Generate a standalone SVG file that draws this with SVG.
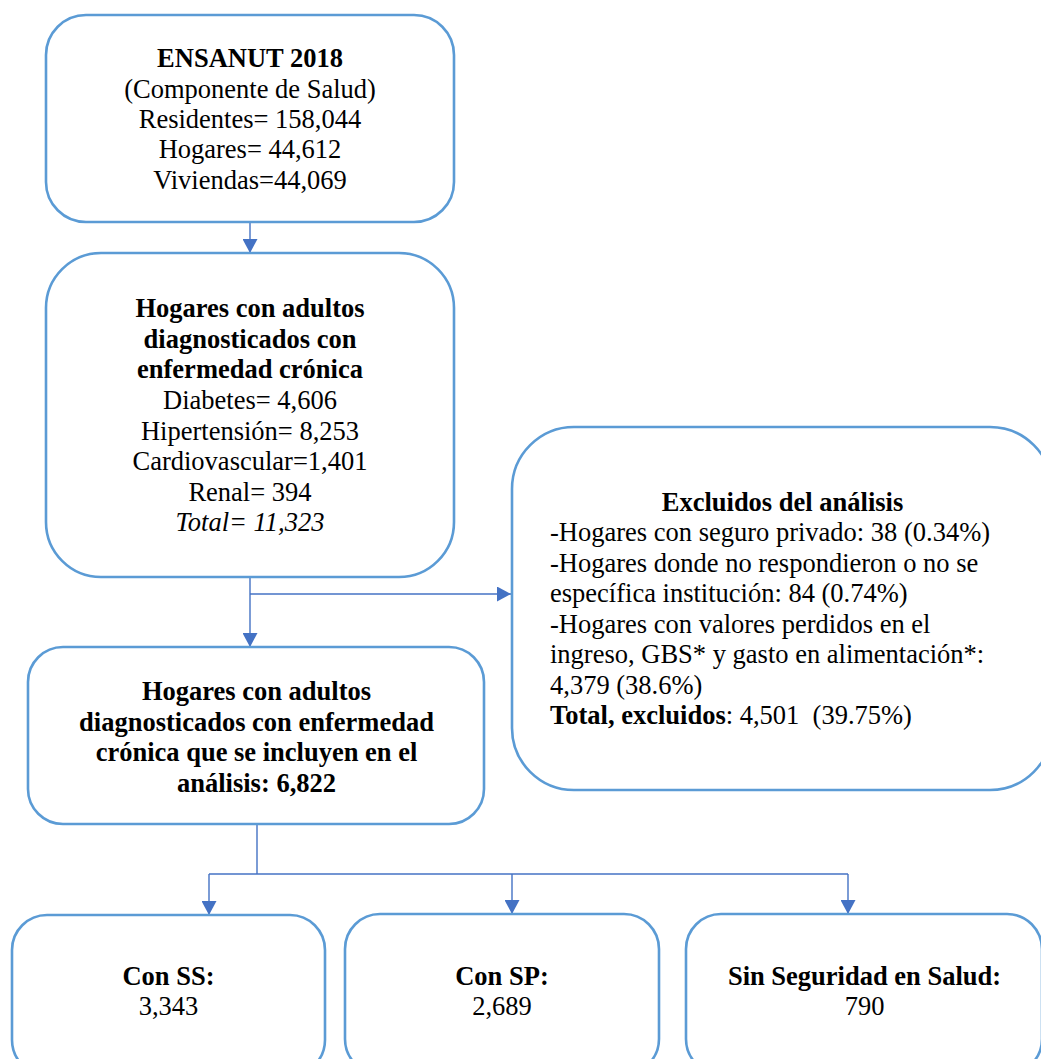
<svg xmlns="http://www.w3.org/2000/svg" width="1041" height="1059" viewBox="0 0 1041 1059">
<style>
.box{fill:#fff;stroke:#5B9BD5;stroke-width:2.6}
.t{font-family:"Liberation Serif","Times New Roman",serif;font-size:26.5px;fill:#000}
.c{text-anchor:middle}
.b{font-weight:bold}
.i{font-style:italic}
.con{fill:none;stroke:#4472C4;stroke-width:1.4}
</style>
<defs>
<marker id="ah" markerUnits="userSpaceOnUse" markerWidth="15" markerHeight="15" refX="14" refY="7.5" orient="auto">
<path d="M0,0 L14,7.5 L0,15 z" fill="#4472C4"/>
</marker>
</defs>
<rect width="1041" height="1059" fill="#fff"/>
<g id="connectors">
<line class="con" x1="250" y1="222" x2="250" y2="253" marker-end="url(#ah)"/>
<line class="con" x1="250" y1="577" x2="250" y2="647" marker-end="url(#ah)"/>
<line class="con" x1="250" y1="594" x2="511" y2="594" marker-end="url(#ah)"/>
<polyline class="con" points="257,824 257,874"/>
<line class="con" x1="209" y1="874" x2="848" y2="874"/>
<line class="con" x1="209" y1="874" x2="209" y2="915" marker-end="url(#ah)"/>
<line class="con" x1="512" y1="874" x2="512" y2="914" marker-end="url(#ah)"/>
<line class="con" x1="848" y1="874" x2="848" y2="914" marker-end="url(#ah)"/>
</g>
<g id="ensanut">
<rect class="box" x="46" y="15" width="408" height="207" rx="40"/>
<text class="t c" x="250" y="67"><tspan class="b">ENSANUT 2018</tspan></text>
<text class="t c" x="250" y="97.5">(Componente de Salud)</text>
<text class="t c" x="250" y="128">Residentes= 158,044</text>
<text class="t c" x="250" y="158">Hogares= 44,612</text>
<text class="t c" x="250" y="188.5">Viviendas=44,069</text>
</g>
<g id="hogares-cronica">
<rect class="box" x="46" y="253" width="408" height="324" rx="55"/>
<text class="t c b" x="250" y="317">Hogares con adultos</text>
<text class="t c b" x="250" y="347.5">diagnosticados con</text>
<text class="t c b" x="250" y="378">enfermedad crónica</text>
<text class="t c" x="250" y="409">Diabetes= 4,606</text>
<text class="t c" x="250" y="439.5">Hipertensión= 8,253</text>
<text class="t c" x="250" y="470">Cardiovascular=1,401</text>
<text class="t c" x="250" y="500.5">Renal= 394</text>
<text class="t c i" x="250" y="531">Total= 11,323</text>
</g>
<g id="excluidos">
<rect class="box" x="512" y="427" width="540" height="363" rx="62"/>
<text class="t c b" x="782.5" y="510.5">Excluidos del análisis</text>
<text class="t" x="550" y="541">-Hogares con seguro privado: 38 (0.34%)</text>
<text class="t" x="550" y="571.5">-Hogares donde no respondieron o no se</text>
<text class="t" x="550" y="602">específica institución: 84 (0.74%)</text>
<text class="t" x="550" y="632.5">-Hogares con valores perdidos en el</text>
<text class="t" x="550" y="663">ingreso, GBS* y gasto en alimentación*:</text>
<text class="t" x="550" y="693.5">4,379 (38.6%)</text>
<text class="t" x="550" y="724"><tspan class="b">Total, excluidos</tspan>: 4,501 <tspan dx="6.6">(39.75%)</tspan></text>
</g>
<g id="incluidos">
<rect class="box" x="28" y="647" width="456" height="177" rx="35"/>
<text class="t c b" x="256.5" y="700">Hogares con adultos</text>
<text class="t c b" x="256.5" y="730.5">diagnosticados con enfermedad</text>
<text class="t c b" x="256.5" y="761">crónica que se incluyen en el</text>
<text class="t c b" x="256.5" y="791.5">análisis: 6,822</text>
</g>
<g id="con-ss">
<rect class="box" x="12" y="915" width="313" height="160" rx="35"/>
<text class="t c b" x="168.5" y="985">Con SS:</text>
<text class="t c" x="168.5" y="1015">3,343</text>
</g>
<g id="con-sp">
<rect class="box" x="345" y="914" width="314" height="160" rx="35"/>
<text class="t c b" x="502" y="985">Con SP:</text>
<text class="t c" x="502" y="1015">2,689</text>
</g>
<g id="sin-seguridad">
<rect class="box" x="686" y="914" width="356" height="160" rx="35"/>
<text class="t c b" x="864.5" y="985">Sin Seguridad en Salud:</text>
<text class="t c" x="864.5" y="1015">790</text>
</g>
</svg>
